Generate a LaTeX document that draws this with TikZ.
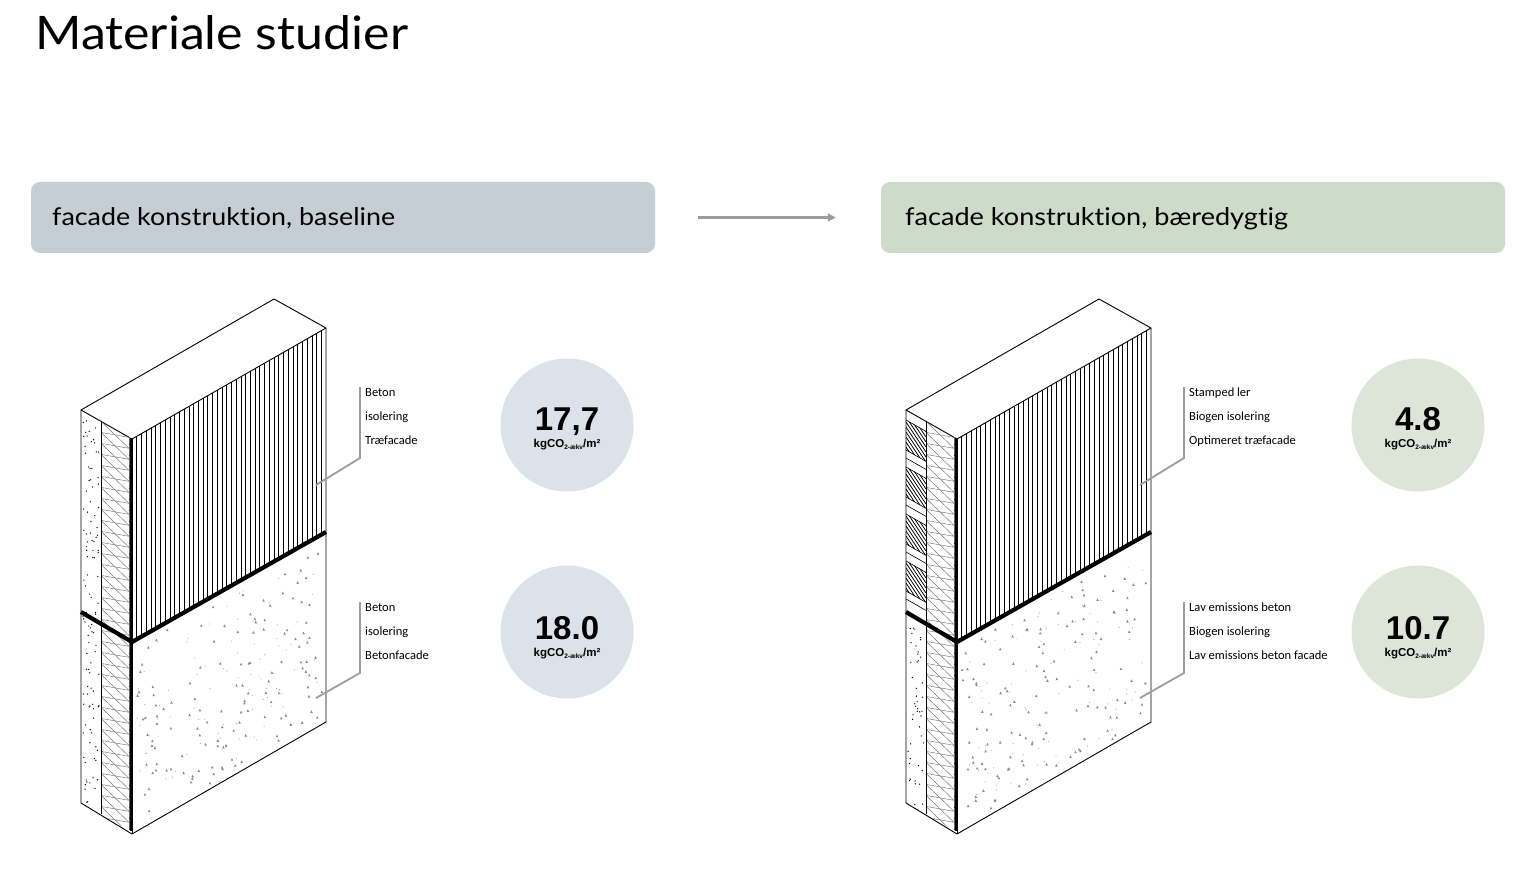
\documentclass[tikz,border=0pt]{standalone}
\usepackage{fontspec}
\usepackage{graphicx}
\newfontfamily\titlefont[Ligatures={NoCommon}]{Lato}
\newfontfamily\labfont{Carlito}
\newfontfamily\numfont{Liberation Sans}
\usetikzlibrary{arrows.meta}
\definecolor{hdrblue}{HTML}{C5CED4}
\definecolor{hdrgreen}{HTML}{CCDCC8}
\definecolor{circblue}{HTML}{DCE2E9}
\definecolor{circgreen}{HTML}{DDE5D9}
\definecolor{leadgray}{HTML}{9C9C9C}
\definecolor{speck}{HTML}{8A8A8A}
\tikzset{
  edge/.style={line width=0.9pt, black, line join=round},
  wood/.style={line width=0.55pt, black},
  insul/.style={line width=0.45pt, black!55},
  leader/.style={line width=1.8pt, leadgray},
  hdr/.style={rounded corners=9pt, minimum width=624pt, minimum height=71pt, inner sep=0pt},
  lab/.style={anchor=base west, inner sep=0pt, font=\labfont\fontsize{12.5}{14}\selectfont},
  bubble/.style={circle, minimum size=133pt, inner sep=0pt},
  bignum/.style={anchor=base, inner sep=0pt, font=\numfont\bfseries\fontsize{33}{34}\selectfont},
  unittext/.style={anchor=base, inner sep=0pt, font=\numfont\bfseries\fontsize{11.5}{12}\selectfont},
}
\newcommand\unitlabel{kgCO\raisebox{-2pt}{\fontsize{6.5}{6.5}\selectfont 2-ækv}/m²}
\newcommand\facadewall[2]{%
  % top face
  \draw[edge] (81,410) -- (274,299) -- (326,328) -- (132,439) -- cycle;
  % wood cladding
  \foreach \i in {1,...,40} {
    \pgfmathsetmacro\xx{132+\i*194/41}
    \draw[wood] (\xx,{439-(\xx-132)/194*111}) -- (\xx,{642-(\xx-132)/194*110});
  }
  % concrete speckles on front
  \pgfmathsetseed{#2}
  \foreach \i in {1,...,130} {
    \pgfmathsetmacro\px{136+186*rnd}
    \pgfmathsetmacro\py{650-(\px-132)/194*110+178*rnd}
    \fill[speck] (\px,\py) -- ++(1.1,-2.6) -- ++(1.4,2.6) -- cycle;
  }
  \foreach \i in {1,...,80} {
    \pgfmathsetmacro\px{136+186*rnd}
    \pgfmathsetmacro\py{650-(\px-132)/194*110+178*rnd}
    \fill[speck!70] (\px,\py) circle (0.6);
  }
  % side concrete dots
  \ifnum#1=1
    \foreach \i in {1,...,45} {
      \pgfmathsetmacro\px{83+16*rnd}
      \pgfmathsetmacro\py{617+(\px-81)*0.569+185*rnd}
      \fill[black] (\px,\py) circle (0.7);
    }
    % clay blocks
    \foreach \k in {0,...,3} {
      \pgfmathsetmacro\yt{420+47*\k}
      \begin{scope}
        \clip (81,\yt) -- (101,\yt+11.4) -- (101,\yt+41.4) -- (81,\yt+30) -- cycle;
        \foreach \j in {0,...,15} {
          \draw[line width=0.75pt] (81,\yt-33+5*\j) -- (101,\yt-3+5*\j);
        }
      \end{scope}
      \draw[line width=0.6pt] (81,\yt) -- (101,\yt+11.4);
      \draw[line width=0.6pt] (81,\yt+30) -- (101,\yt+41.4);
      \draw[line width=0.6pt] (81,\yt+38) -- (101,\yt+49.4);
    }
  \else
    \foreach \i in {1,...,110} {
      \pgfmathsetmacro\px{83+16*rnd}
      \pgfmathsetmacro\py{415+(\px-81)*0.569+385*rnd}
      \fill[black] (\px,\py) circle (0.7);
    }
  \fi
  % insulation zigzag
  \begin{scope}
    \clip (101,421.4) -- (129,437.3) -- (129,830.3) -- (101,814.4) -- cycle;
    \foreach \k in {0,...,18} {
      \draw[insul] (101,421.4+22*\k) -- (129,437.3+22*\k+11) -- (101,421.4+22*\k+22);
      \draw[insul] (129,437.3+22*\k) -- (101,421.4+22*\k+11) -- (129,437.3+22*\k+22);
    }
  \end{scope}
  \draw[line width=0.5pt] (101,421.4) -- (101,814.4);
  % membrane layer
  \draw[line width=0.5pt, black!60] (129,437.3) -- (129,830.3);
  \draw[line width=1.3pt] (131,438.4) -- (131,831.4);
  \foreach \k in {0,...,35} {
    \draw[line width=0.5pt] (129,444+11*\k) -- (131,445+11*\k);
  }
  % outline
  \draw[edge] (81,410) -- (81,803) -- (132,834) -- (326,722) -- (326,328);
  \draw[edge] (132,439) -- (132,834);
  % joint
  \draw[line width=4.2pt, line join=bevel] (81,612) -- (132,642) -- (326,532);
}
\begin{document}
\begin{tikzpicture}[x=1pt,y=-1pt]
\useasboundingbox (0,0) rectangle (1531,885);
\fill[white] (0,0) rectangle (1531,885);

\node[anchor=base west, inner sep=0pt] (title) at (35,50)
  {\resizebox{373pt}{34pt}{\titlefont Materiale studier}};

\node[hdr, fill=hdrblue] (hl) at (343,217.5) {};
\node[hdr, fill=hdrgreen] (hr) at (1193,217.5) {};
\node[anchor=base west, inner sep=0pt] (hlt) at (52,226)
  {\resizebox{343pt}{18pt}{\titlefont facade konstruktion, baseline}};
\node[anchor=base west, inner sep=0pt] (hrt) at (905,226)
  {\resizebox{383pt}{18pt}{\titlefont facade konstruktion, bæredygtig}};
\draw[line width=2.4pt, leadgray, -{Triangle[length=8pt,width=8pt]}]
  ([xshift=43pt]hl.east) -- ([xshift=-45pt]hr.west);

% walls
\facadewall{0}{3}
\begin{scope}[xshift=825pt]
\facadewall{1}{7}
\end{scope}

% leaders left
\coordinate (a1) at (360,387); \coordinate (a2) at (360,458); \coordinate (a3) at (316,485);
\draw[leader] (a1) -- (a2) -- (a3);
\coordinate (b1) at (360,602); \coordinate (b2) at (360,673); \coordinate (b3) at (316,698);
\draw[leader] (b1) -- (b2) -- (b3);
\node[lab] (la1) at (365,396) {Beton};
\node[lab] (la2) at (365,420) {isolering};
\node[lab] (la3) at (365,444) {Træfacade};
\node[lab] (lb1) at (365,611) {Beton};
\node[lab] (lb2) at (365,635) {isolering};
\node[lab] (lb3) at (365,659) {Betonfacade};

% leaders right
\coordinate (c1) at (1184,387); \coordinate (c2) at (1184,458); \coordinate (c3) at (1140,485);
\draw[leader] (c1) -- (c2) -- (c3);
\coordinate (d1) at (1184,602); \coordinate (d2) at (1184,673); \coordinate (d3) at (1140,698);
\draw[leader] (d1) -- (d2) -- (d3);
\node[lab] (lc1) at (1189,396) {Stamped ler};
\node[lab] (lc2) at (1189,420) {Biogen isolering};
\node[lab] (lc3) at (1189,444) {Optimeret træfacade};
\node[lab] (ld1) at (1189,611) {Lav emissions beton};
\node[lab] (ld2) at (1189,635) {Biogen isolering};
\node[lab] (ld3) at (1189,659) {Lav emissions beton facade};

% bubbles
\node[bubble, fill=circblue] (cb1) at (567,425) {};
\node[bubble, fill=circblue] (cb2) at (567,632) {};
\node[bubble, fill=circgreen] (cg1) at (1418,425) {};
\node[bubble, fill=circgreen] (cg2) at (1418,632) {};
\node[bignum] (n1) at (567,430) {17,7};
\node[unittext] (u1) at (567,447) {\unitlabel};
\node[bignum] (n2) at (567,639) {18.0};
\node[unittext] (u2) at (567,656) {\unitlabel};
\node[bignum] (n3) at (1418,430) {4.8};
\node[unittext] (u3) at (1418,447) {\unitlabel};
\node[bignum] (n4) at (1418,639) {10.7};
\node[unittext] (u4) at (1418,656) {\unitlabel};
\end{tikzpicture}
\end{document}
